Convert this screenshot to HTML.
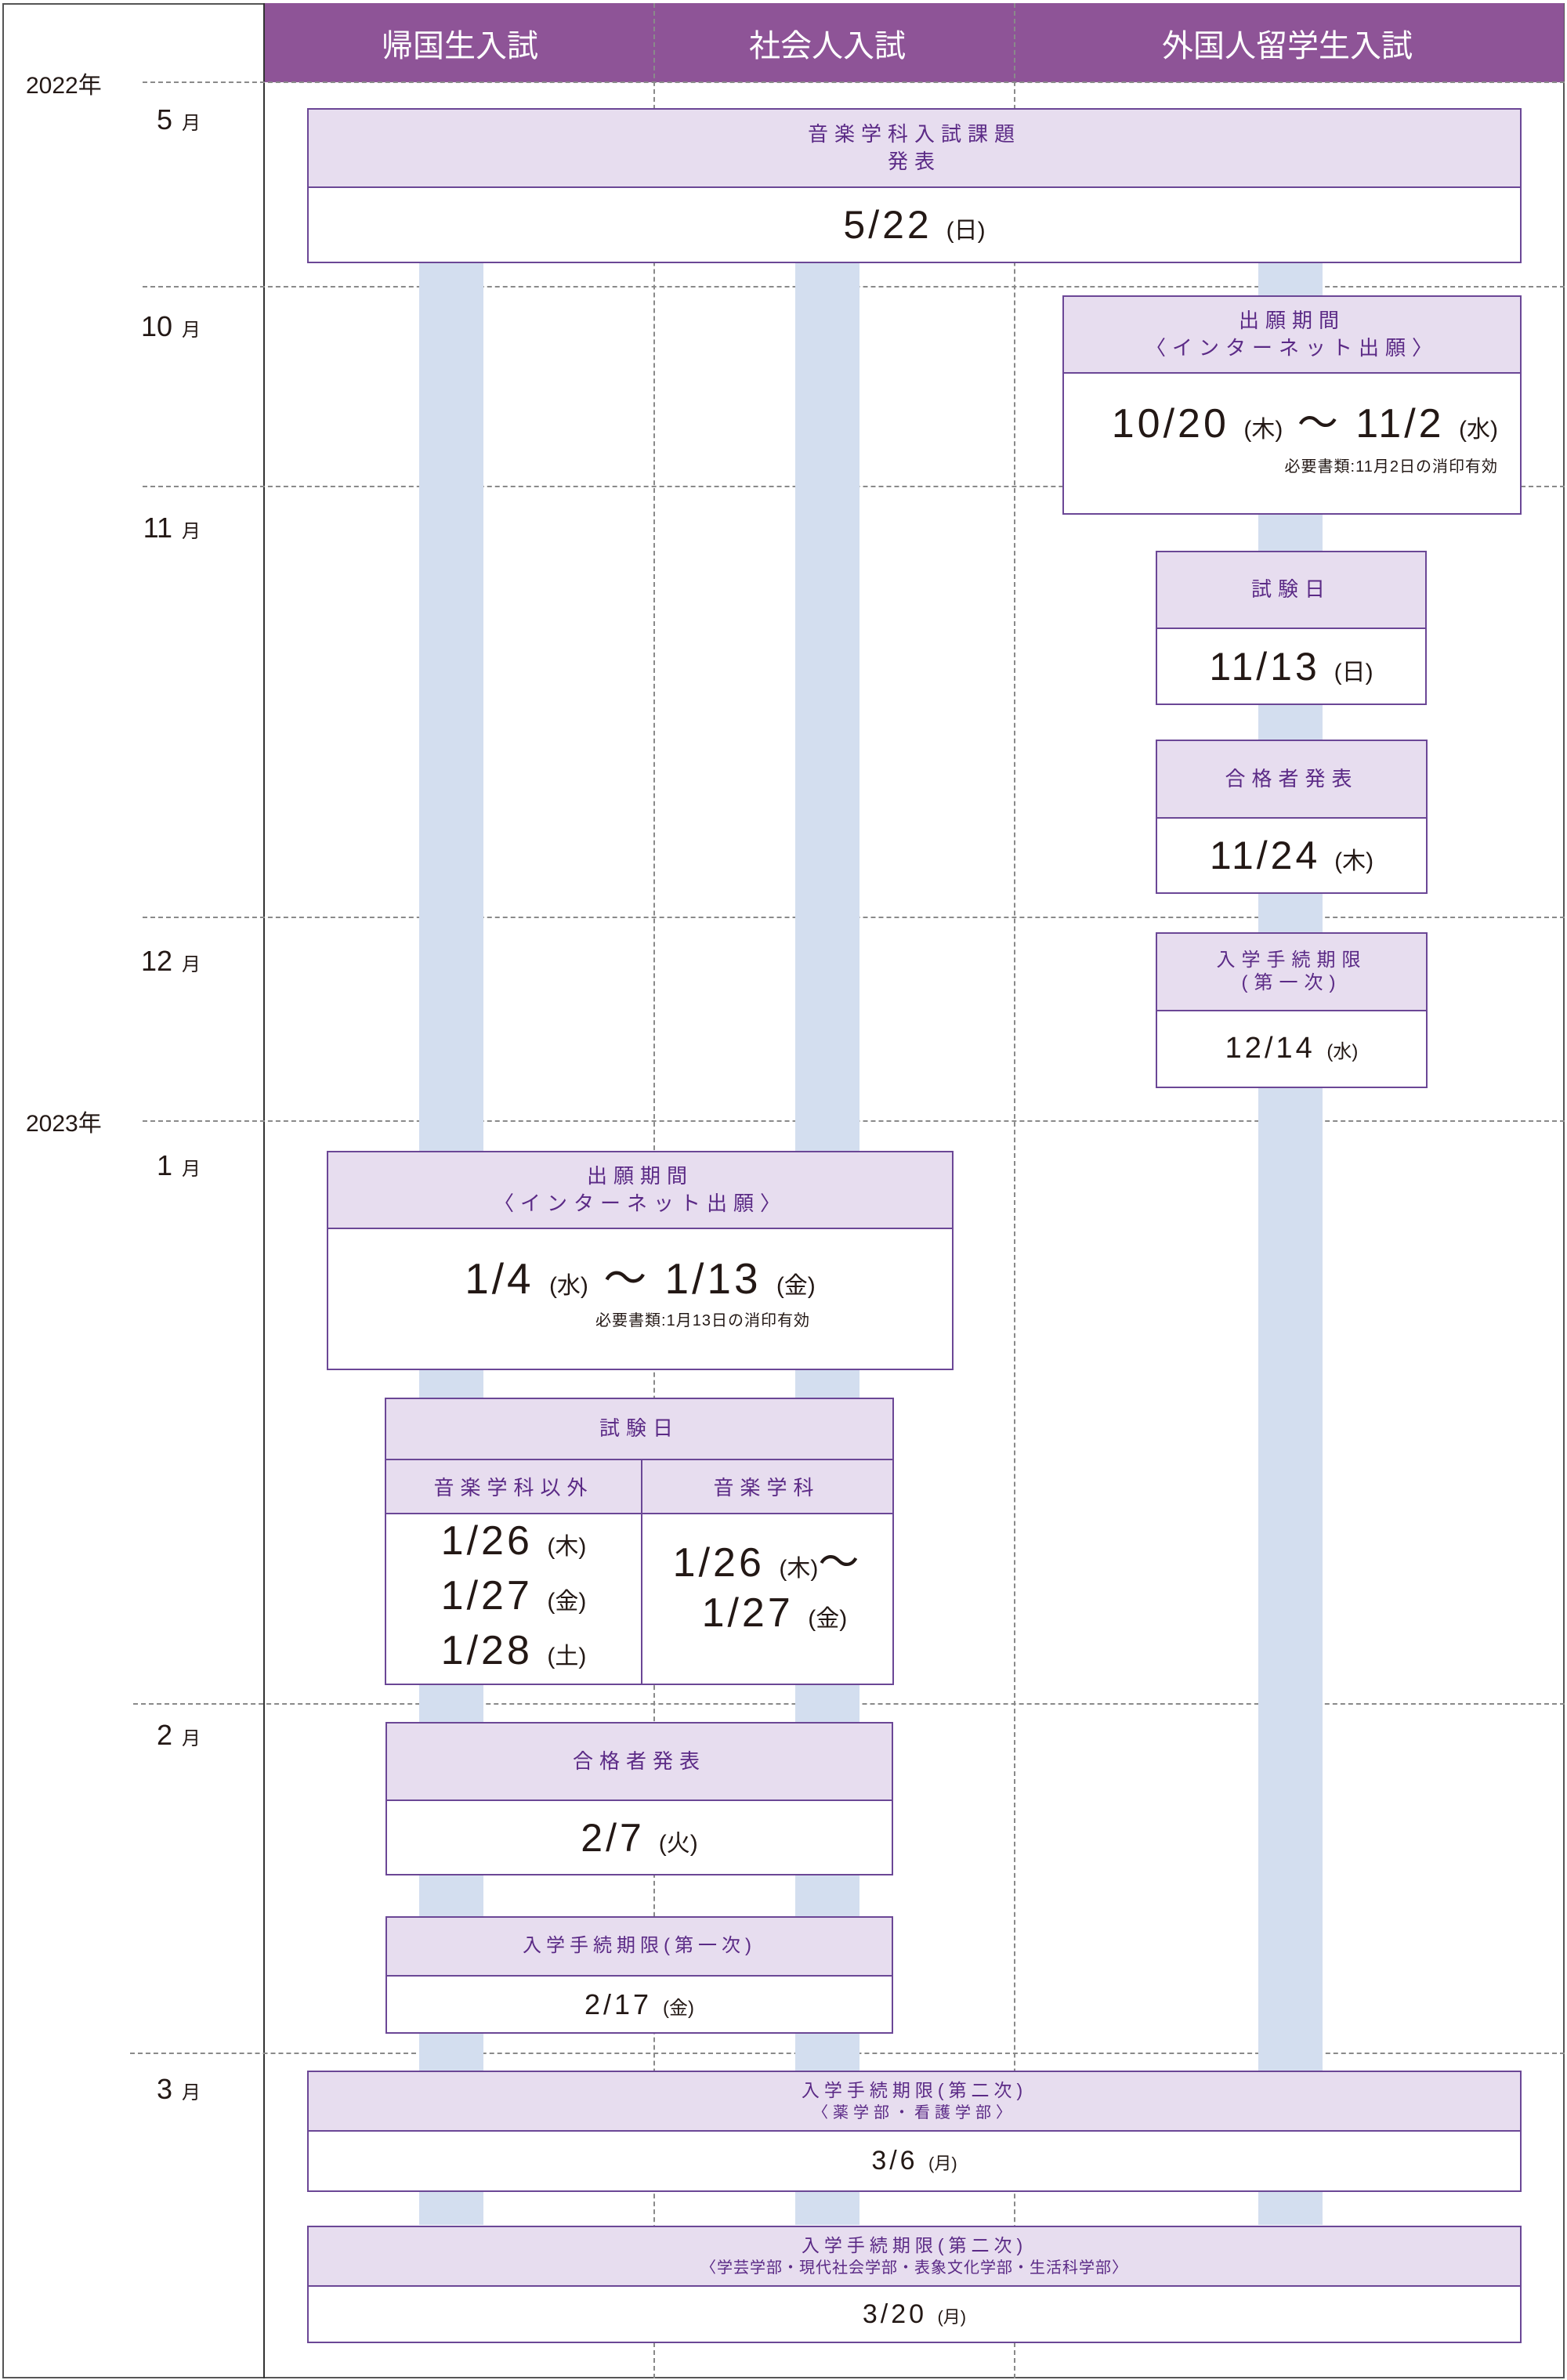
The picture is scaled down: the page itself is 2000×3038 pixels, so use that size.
<!DOCTYPE html>
<html><head><meta charset="utf-8"><style>
*{margin:0;padding:0;box-sizing:border-box}
body{width:2000px;height:3038px;position:relative;background:#fff;font-family:"Liberation Sans","Noto Sans CJK JP",sans-serif;color:#231815;overflow:hidden}
.a{position:absolute}
.hd{position:absolute;background:#8e5497;color:#fff}
.hl{position:absolute;top:22px;font-size:40px;transform:translateX(-50%);white-space:nowrap}
.hdash{position:absolute;height:0;border-top:2px dashed #8a8a8a}
.vdash{position:absolute;width:0;border-left:2px dashed #8a8a8a}
.bar{position:absolute;background:#d3deef;width:82px}
.box{position:absolute;border:2px solid #6b4796;background:#fff}
.bh{position:absolute;left:0;right:0;top:0;background:#e7ddef;border-bottom:2px solid #6b4796;display:flex;flex-direction:column;align-items:center;justify-content:center;color:#5b2a86;font-size:26px;letter-spacing:8px;line-height:1.35;text-align:center}
.bb{position:absolute;left:0;right:0;bottom:0;display:flex;flex-direction:column;align-items:center;justify-content:center;text-align:center}
.d{font-size:50px;letter-spacing:4px;line-height:1.2}
.w{font-size:30px;letter-spacing:0}
.yr{position:absolute;left:33px;font-size:30px}
.mo{position:absolute;width:260px;left:0;text-align:right;font-size:36px}
.mo span{font-size:24px;margin-left:12px;display:inline-block;width:28px;text-align:left}
</style></head><body>
<div class="a" style="left:3px;top:4px;width:1994px;height:3032px;border:2px solid #555"></div>
<div class="a" style="left:336px;top:4px;width:2px;height:3032px;background:#333"></div>
<div class="hd" style="left:338px;top:4px;width:1658px;height:101px">
 <div class="hl" style="left:249px">帰国生入試</div>
 <div class="hl" style="left:718px">社会人入試</div>
 <div class="hl" style="left:1305px">外国人留学生入試</div>
</div>
<div class="vdash" style="left:834px;top:4px;height:3032px"></div>
<div class="vdash" style="left:1294px;top:4px;height:3032px"></div>

<div class="hdash" style="left:182px;top:104px;width:1815px"></div>
<div class="hdash" style="left:182px;top:365px;width:1815px"></div>
<div class="hdash" style="left:182px;top:620px;width:1815px"></div>
<div class="hdash" style="left:182px;top:1170px;width:1815px"></div>
<div class="hdash" style="left:182px;top:1430px;width:1815px"></div>
<div class="hdash" style="left:170px;top:2174px;width:1827px"></div>
<div class="hdash" style="left:166px;top:2620px;width:1831px"></div>

<div class="yr" style="top:84px">2022年</div>
<div class="yr" style="top:1409px">2023年</div>
<div class="mo" style="top:132px">5<span>月</span></div>
<div class="mo" style="top:396px">10<span>月</span></div>
<div class="mo" style="top:653px">11<span>月</span></div>
<div class="mo" style="top:1206px">12<span>月</span></div>
<div class="mo" style="top:1467px">1<span>月</span></div>
<div class="mo" style="top:2194px">2<span>月</span></div>
<div class="mo" style="top:2646px">3<span>月</span></div>

<div class="bar" style="left:535px;top:335px;height:2505px"></div>
<div class="bar" style="left:1015px;top:335px;height:2505px"></div>
<div class="bar" style="left:1606px;top:335px;height:2505px"></div>

<div class="box" style="left:392px;top:138px;width:1550px;height:198px">
 <div class="bh" style="height:100px">音楽学科入試課題<br>発表</div>
 <div class="bb" style="top:100px"><div class="d">5/22 <span class="w">(日)</span></div></div>
</div>
<div class="box" style="left:1356px;top:377px;width:586px;height:280px">
 <div class="bh" style="height:98px">出願期間<br>〈インターネット出願〉</div>
 <div class="bb" style="top:98px;align-items:flex-end;padding-right:28px"><div class="d" style="font-size:52px;margin-top:-14px">10/20 <span class="w">(木)</span> ～ 11/2 <span class="w">(水)</span></div><div style="font-size:20px;letter-spacing:1px;margin-top:6px">必要書類:11月2日の消印有効</div></div>
</div>
<div class="box" style="left:1475px;top:703px;width:346px;height:197px">
 <div class="bh" style="height:98px">試験日</div>
 <div class="bb" style="top:98px"><div class="d">11/13 <span class="w">(日)</span></div></div>
</div>
<div class="box" style="left:1475px;top:944px;width:347px;height:197px">
 <div class="bh" style="height:99px">合格者発表</div>
 <div class="bb" style="top:99px"><div class="d">11/24 <span class="w">(木)</span></div></div>
</div>
<div class="box" style="left:1475px;top:1190px;width:347px;height:199px">
 <div class="bh" style="height:99px;font-size:24px;line-height:1.2">入学手続期限<br>(第一次)</div>
 <div class="bb" style="top:99px"><div class="d" style="font-size:38px">12/14 <span class="w" style="font-size:24px">(水)</span></div></div>
</div>
<div class="box" style="left:417px;top:1469px;width:800px;height:280px">
 <div class="bh" style="height:98px">出願期間<br>〈インターネット出願〉</div>
 <div class="bb" style="top:98px"><div class="d" style="font-size:55px;margin-top:-20px">1/4 <span class="w">(水)</span> ～ 1/13 <span class="w">(金)</span></div><div style="font-size:20px;letter-spacing:1px;margin-left:160px;margin-top:4px">必要書類:1月13日の消印有効</div></div>
</div>
<div class="box" style="left:491px;top:1784px;width:650px;height:367px">
 <div class="bh" style="height:78px">試験日</div>
 <div class="a" style="left:0;top:78px;width:325px;height:69px;background:#e7ddef;border-bottom:2px solid #6b4796;display:flex;align-items:center;justify-content:center;color:#5b2a86;font-size:26px;letter-spacing:8px">音楽学科以外</div>
 <div class="a" style="left:325px;top:78px;width:321px;height:69px;background:#e7ddef;border-bottom:2px solid #6b4796;display:flex;align-items:center;justify-content:center;color:#5b2a86;font-size:26px;letter-spacing:8px">音楽学科</div>
 <div class="a" style="left:325px;top:78px;width:2px;height:285px;background:#6b4796"></div>
 <div class="a" style="left:0;top:147px;width:325px;height:216px;display:flex;flex-direction:column;align-items:center;justify-content:center"><div class="d" style="font-size:52px;line-height:62px">1/26 <span class="w">(木)</span><br>1/27 <span class="w">(金)</span><br>1/28 <span class="w">(土)</span></div></div>
 <div class="a" style="left:327px;top:147px;width:319px;height:216px;display:flex;flex-direction:column;align-items:center;justify-content:center"><div class="d" style="font-size:52px;line-height:56px;margin-top:-20px">1/26 <span class="w">(木)</span>～<br>&nbsp;&nbsp;1/27 <span class="w">(金)</span></div></div>
</div>
<div class="box" style="left:492px;top:2198px;width:648px;height:196px">
 <div class="bh" style="height:99px">合格者発表</div>
 <div class="bb" style="top:99px"><div class="d">2/7 <span class="w">(火)</span></div></div>
</div>
<div class="box" style="left:492px;top:2446px;width:648px;height:150px">
 <div class="bh" style="height:75px;font-size:24px;letter-spacing:6px">入学手続期限(第一次)</div>
 <div class="bb" style="top:75px"><div class="d" style="font-size:36px">2/17 <span class="w" style="font-size:24px">(金)</span></div></div>
</div>
<div class="box" style="left:392px;top:2643px;width:1550px;height:155px">
 <div class="bh" style="height:76px;font-size:23px;letter-spacing:6px;line-height:1.3">入学手続期限(第二次)<br><span style="font-size:20px">〈薬学部・看護学部〉</span></div>
 <div class="bb" style="top:76px"><div class="d" style="font-size:34px">3/6 <span class="w" style="font-size:22px">(月)</span></div></div>
</div>
<div class="box" style="left:392px;top:2841px;width:1550px;height:150px">
 <div class="bh" style="height:76px;font-size:23px;letter-spacing:6px;line-height:1.3">入学手続期限(第二次)<br><span style="font-size:20px;letter-spacing:1px">〈学芸学部・現代社会学部・表象文化学部・生活科学部〉</span></div>
 <div class="bb" style="top:76px"><div class="d" style="font-size:34px">3/20 <span class="w" style="font-size:22px">(月)</span></div></div>
</div>
</body></html>
